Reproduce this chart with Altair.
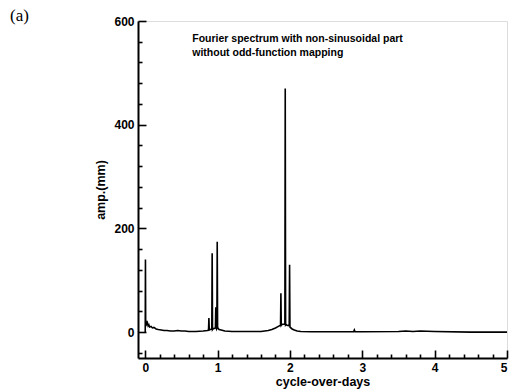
import altair as alt
import pandas as pd

# spectrum
freq = [0.0, 0.003, 0.006, 0.01, 0.02, 0.03, 0.04, 0.05, 0.06, 0.08, 0.10, 0.12, 0.15, 0.18,
        0.22, 0.26, 0.30, 0.35, 0.40, 0.45, 0.50, 0.55, 0.60, 0.70, 0.80, 0.86, 0.875, 0.88,
        0.885, 0.90, 0.92, 0.925, 0.93, 0.935, 0.95, 0.97, 0.975, 0.98, 0.985, 0.99, 0.995,
        1.0, 1.005, 1.02, 1.05, 1.1, 1.2, 1.4, 1.6, 1.7, 1.75, 1.8, 1.84, 1.87, 1.875, 1.88,
        1.885, 1.90, 1.93, 1.935, 1.94, 1.945, 1.96, 1.99, 1.995, 2.0, 2.005, 2.03, 2.06, 2.1,
        2.15, 2.3, 2.6, 2.88, 2.89, 2.9, 3.0, 3.5, 3.6, 3.7, 3.8, 4.0, 4.5, 5.0]
amp = [0, 140, 20, 22, 15, 18, 12, 14, 10, 11, 8, 9, 6, 5,
       4, 3, 3, 2, 2, 3, 2, 2, 1, 1, 2, 3, 4, 27,
       4, 5, 6, 152, 5, 6, 7, 8, 48, 8, 6, 8, 174,
       6, 8, 5, 4, 2, 1, 1, 1, 3, 5, 8, 11, 13, 75, 13,
       14, 15, 15, 470, 14, 15, 13, 12, 130, 10, 9, 6, 4, 2,
       1, 0.5, 0.5, 0.5, 4, 0.5, 0.5, 1, 2, 1, 2, 1, 0, 0]

x_major = [0, 1, 2, 3, 4, 5]
x_minor = [0.2, 0.4, 0.6, 0.8, 1.2, 1.4, 1.6, 1.8, 2.2, 2.4, 2.6, 2.8,
           3.2, 3.4, 3.6, 3.8, 4.2, 4.4, 4.6, 4.8]
y_major = [0, 200, 400, 600]
y_minor = [-40, 40, 80, 120, 160, 240, 280, 320, 360, 440, 480, 520, 560]

note_lines = ["Fourier spectrum with non-sinusoidal part", "without odd-function mapping"]
note_x = [0.65, 0.65]
note_y = [565, 538]

W, H = 369, 337
FONT = "Liberation Sans"

df = pd.DataFrame({"freq": freq, "amp": amp})
notes = pd.DataFrame({"x": note_x, "y": note_y, "t": note_lines})

xs = alt.Scale(domain=[-0.1, 5], nice=False, zero=False)
ys = alt.Scale(domain=[-50, 600], nice=False, zero=False)

line = alt.Chart(df).mark_line(color="black", strokeWidth=1.6).encode(
    x=alt.X("freq:Q", scale=xs, axis=alt.Axis(
        orient="bottom", values=x_major, ticks=False, grid=False, labels=True,
        labelFont=FONT, labelFontWeight="bold", labelFontSize=12, labelColor="black",
        labelPadding=4, domain=True, domainColor="black", domainWidth=2,
        title="cycle-over-days", titleFont=FONT, titleFontSize=12.5,
        titleFontWeight="bold", titleColor="black", titlePadding=2)),
    y=alt.Y("amp:Q", scale=ys, axis=alt.Axis(
        orient="left", values=y_major, ticks=False, grid=False, labels=True,
        labelFont=FONT, labelFontWeight="bold", labelFontSize=12, labelColor="black",
        labelPadding=4, domain=True, domainColor="black", domainWidth=2,
        title="amp.(mm)", titleFont=FONT, titleFontSize=12.5,
        titleFontWeight="bold", titleColor="black", titlePadding=6)),
)


def tick_layer(xv, yv, size):
    return alt.Chart(df).mark_line(strokeOpacity=0).encode(
        x=alt.X("freq:Q", scale=xs, axis=alt.Axis(
            orient="top", offset=-H, values=xv, labels=False, domain=False, grid=False,
            ticks=True, tickSize=size, tickWidth=1.6, tickColor="black", title=None)),
        y=alt.Y("amp:Q", scale=ys, axis=alt.Axis(
            orient="right", offset=-W, values=yv, labels=False, domain=False, grid=False,
            ticks=True, tickSize=size, tickWidth=1.6, tickColor="black", title=None)),
    )


major = tick_layer(x_major, y_major, 8)
minor = tick_layer(x_minor, y_minor, 4)

text = alt.Chart(notes).mark_text(
    align="left", baseline="middle", font=FONT, fontWeight="bold", fontSize=10.5,
    color="black").encode(
    x=alt.X("x:Q", scale=xs, axis=None),
    y=alt.Y("y:Q", scale=ys, axis=None),
    text="t:N",
)

chart = alt.layer(line, major, minor, text).resolve_axis(
    x="independent", y="independent"
).properties(
    width=W, height=H,
    title=alt.TitleParams("(a)", anchor="start", frame="group", dx=-128, dy=10,
                          font="Liberation Serif", fontSize=17, fontWeight="normal",
                          color="black", offset=0),
    autosize=alt.AutoSizeParams(type="none"),
    padding={"left": 138, "top": 21, "right": 5, "bottom": 33},
).configure_view(stroke=None).configure(background="white")

chart.save("out.html", embed_options={"renderer": "svg", "actions": False})
